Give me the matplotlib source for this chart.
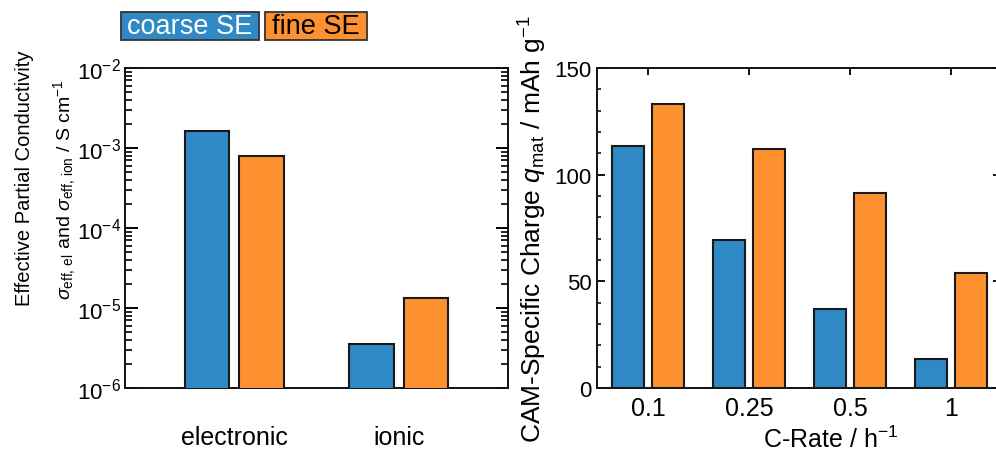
import matplotlib
matplotlib.use("Agg")
import matplotlib.pyplot as plt
import matplotlib.patches as mpatches
from matplotlib.ticker import MultipleLocator, LogLocator, NullFormatter
import numpy as np

plt.rcParams['font.family'] = ['Liberation Sans', 'DejaVu Sans']
plt.rcParams['mathtext.fontset'] = 'custom'
plt.rcParams['mathtext.rm'] = 'Liberation Sans'
plt.rcParams['mathtext.it'] = 'Liberation Sans:italic'
plt.rcParams['mathtext.bf'] = 'Liberation Sans:bold'

# ---- data ----
series = ["coarse SE", "fine SE"]
cond_categories = ["electronic", "ionic"]
cond_coarse = [1.63e-3, 3.55e-6]
cond_fine = [8.0e-4, 1.33e-5]

rate_labels = ["0.1", "0.25", "0.5", "1"]
charge_coarse = [113.5, 69.3, 37.0, 13.6]
charge_fine = [133.1, 111.8, 91.4, 53.9]

BLUE = '#2E89C4'
ORANGE = '#FD9130'
EDGE = '#1a1a1a'

W, H = 996, 452
fig = plt.figure(figsize=(W / 100, H / 100), dpi=100)

def fx(px):
    return px / W

def fy(py):
    return 1 - py / H

ax_top, ax_bot = 69, 389
R2 = 1001
ax1 = fig.add_axes([fx(125), fy(ax_bot), fx(508) - fx(125), fy(ax_top) - fy(ax_bot)])
ax2 = fig.add_axes([fx(597), fy(ax_bot), fx(R2) - fx(597), fy(ax_top) - fy(ax_bot)])

for ax in (ax1, ax2):
    for s in ax.spines.values():
        s.set_linewidth(1.4)
        s.set_color('#111111')

# ---- left panel ----
x1 = np.arange(len(cond_categories))
bw1 = 0.27
off1 = 0.165
ax1.bar(x1 - off1, cond_coarse, width=bw1, color=BLUE, edgecolor=EDGE, linewidth=1.5, zorder=3)
ax1.bar(x1 + off1, cond_fine, width=bw1, color=ORANGE, edgecolor=EDGE, linewidth=1.5, zorder=3)
ax1.set_yscale('log')
ax1.set_ylim(1e-6, 1e-2)
ax1.set_xlim(-0.665, 1.665)
ax1.yaxis.set_major_locator(LogLocator(base=10, numticks=10))
ax1.yaxis.set_minor_locator(LogLocator(base=10, subs=np.arange(2, 10), numticks=10))
ax1.yaxis.set_minor_formatter(NullFormatter())
ax1.tick_params(axis='y', which='both', direction='in', left=True, right=True, labelsize=16, pad=3)
ax1.tick_params(axis='y', which='major', length=9, width=1.4)
ax1.tick_params(axis='y', which='minor', length=5, width=1.2)
ax1.set_xticks(x1)
ax1.set_xticklabels(cond_categories, fontsize=18)
ax1.tick_params(axis='x', which='both', length=0, pad=27)

# ---- right panel ----
x2 = np.arange(len(rate_labels))
bw2 = 0.32
off2 = 0.2
ax2.bar(x2 - off2, charge_coarse, width=bw2, color=BLUE, edgecolor=EDGE, linewidth=1.5, zorder=3)
ax2.bar(x2 + off2, charge_fine, width=bw2, color=ORANGE, edgecolor=EDGE, linewidth=1.5, zorder=3)
ax2.set_ylim(0, 150)
ax2.set_xlim(-0.505, 3.495)
ax2.yaxis.set_major_locator(MultipleLocator(50))
ax2.yaxis.set_minor_locator(MultipleLocator(10))
ax2.tick_params(axis='y', which='both', direction='in', left=True, right=True, labelsize=16, pad=4)
ax2.tick_params(axis='y', which='major', length=6, width=1.3)
ax2.tick_params(axis='y', which='minor', length=3, width=1.1)
ax2.set_xticks(x2)
ax2.set_xticklabels(rate_labels, fontsize=18)
ax2.tick_params(axis='x', which='major', direction='in', top=True, bottom=False, length=5, width=1.3, pad=6)
ax2.set_xlabel(r"C-Rate / h$^{-1}$", fontsize=18)
ax2.xaxis.set_label_coords((831 - 597) / (R2 - 597), (ax_bot - 440) / (ax_bot - ax_top))
ax2.xaxis.label.set_va('center')
ax2.set_ylabel(r"CAM-Specific Charge $q_{\mathrm{mat}}$ / mAh g$^{-1}$", fontsize=19)
ax2.yaxis.set_label_coords((533 - 597) / (R2 - 597), 0.5)
ax2.yaxis.label.set_va('center')

# ---- left y label (two lines) ----
fig.text(fx(24), fy(178), "Effective Partial Conductivity", rotation=90,
         ha='center', va='center', fontsize=14.5)
fig.text(fx(65), fy(190),
         r"$\sigma_{\mathrm{eff,\,el}}$ and $\sigma_{\mathrm{eff,\,ion}}$ / S cm$^{-1}$",
         rotation=90, ha='center', va='center', fontsize=14)

# ---- legend boxes ----
boxes = [(121, 259, BLUE, 'white'), (265, 367, ORANGE, 'black')]
for (x0, x1b, col, tcol), name in zip(boxes, series):
    r = mpatches.Rectangle((fx(x0), fy(41)), fx(x1b) - fx(x0), fy(13) - fy(41),
                           transform=fig.transFigure, facecolor=col,
                           edgecolor='#333333', linewidth=1.3)
    fig.patches.append(r)
    fig.text(fx((x0 + x1b) / 2), fy(27.5), name, color=tcol, ha='center', va='center', fontsize=19.5)

fig.savefig("out.png", dpi=100)
